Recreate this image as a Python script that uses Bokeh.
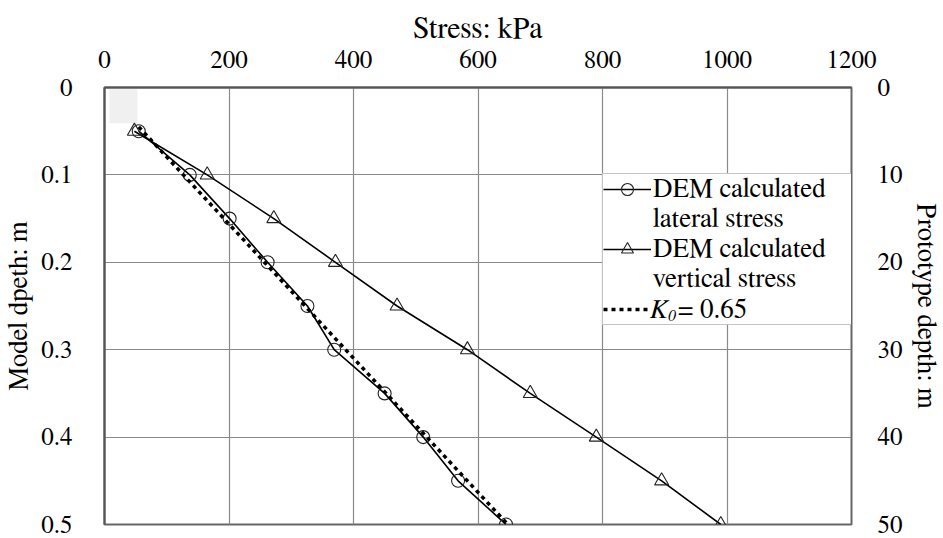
from bokeh.plotting import figure
from bokeh.models import (Range1d, LinearAxis, FixedTicker, CustomJSTickFormatter,
                          Legend, LegendItem)
from bokeh.embed import file_html
from bokeh.resources import INLINE

# ---- data ----
depth = [0.05, 0.10, 0.15, 0.20, 0.25, 0.30, 0.35, 0.40, 0.45, 0.50]
lateral_stress = [55, 137, 201, 262, 326, 369, 450, 512, 568, 645]
vertical_stress = [48, 165, 272, 371, 470, 583, 684, 790, 895, 990]
k0_depth = [0.045, 0.50]
k0_stress = [55, 648]
box_stress = [8, 53]
box_depth = [0.002, 0.041]
x_ticks = [0, 200, 400, 600, 800, 1000, 1200]
y_ticks = [0, 0.1, 0.2, 0.3, 0.4, 0.5]
proto_ticks = [0, 10, 20, 30, 40, 50]

FONT = "Nimbus Roman, FreeSerif, DejaVu Serif"

p = figure(width=943, height=538, x_range=Range1d(0, 1200), y_range=Range1d(0.5, 0),
           x_axis_location="above", output_backend="svg", toolbar_location=None,
           min_border_left=104, min_border_right=92, min_border_top=87, min_border_bottom=14)
p.extra_y_ranges = {"proto": Range1d(50, 0)}

p.outline_line_color = "#666666"
p.outline_line_width = 2
p.xgrid.ticker = FixedTicker(ticks=x_ticks)
p.ygrid.ticker = FixedTicker(ticks=y_ticks)
p.grid.grid_line_color = "#8a8a8a"
p.grid.grid_line_width = 1.2

p.xaxis.ticker = FixedTicker(ticks=x_ticks)
p.yaxis.ticker = FixedTicker(ticks=y_ticks)
p.yaxis.formatter = CustomJSTickFormatter(code="return String(Math.round(tick*10)/10);")
p.xaxis.axis_label = "Stress: kPa"
p.yaxis.axis_label = "Model dpeth: m"

right = LinearAxis(y_range_name="proto", ticker=FixedTicker(ticks=proto_ticks),
                   axis_label="Prototype depth: m")
p.add_layout(right, "right")

for ax in [p.xaxis[0], p.yaxis[0], right]:
    ax.major_tick_line_color = None
    ax.minor_tick_line_color = None
    ax.major_label_text_font = FONT
    ax.major_label_text_font_size = "25px"
    ax.major_label_text_color = "black"
    ax.axis_label_text_font = FONT
    ax.axis_label_text_font_size = "27px"
    ax.axis_label_text_font_style = "normal"
    ax.axis_label_text_color = "black"
    ax.axis_line_color = "#555555"
    ax.axis_line_width = 2
right.axis_line_color = None
p.xaxis.axis_label_text_font_size = "30px"
p.xaxis.major_label_standoff = 14
p.xaxis.axis_label_standoff = 5
p.yaxis.major_label_standoff = 26
p.yaxis.axis_label_standoff = 6
right.major_label_standoff = 20
right.axis_label_standoff = 7

p.quad(left=[box_stress[0]], right=[box_stress[1]], top=[box_depth[0]], bottom=[box_depth[1]],
       fill_color="#f0f0f0", line_color=None)

lat_line = p.line(lateral_stress, depth, line_color="black", line_width=1.6)
lat_pts = p.scatter(lateral_stress, depth, marker="circle", size=13, fill_color=None,
                    line_color="#222222", line_width=1.1)
ver_line = p.line(vertical_stress, depth, line_color="black", line_width=1.6)
ver_pts = p.scatter(vertical_stress, depth, marker="triangle", size=14, fill_color=None,
                    line_color="#222222", line_width=1.1)
k0_line = p.line(k0_stress, k0_depth, line_color="black", line_width=3.5, line_dash="4 4")
dummy = p.line(x=[], y=[], line_alpha=0)

legend = Legend(items=[
    LegendItem(label="DEM calculated", renderers=[lat_line, lat_pts]),
    LegendItem(label="lateral stress", renderers=[dummy]),
    LegendItem(label="DEM calculated", renderers=[ver_line, ver_pts]),
    LegendItem(label="vertical stress", renderers=[dummy]),
    LegendItem(label=" ", renderers=[k0_line]),
], location=(498, 199))
legend.label_text_font = FONT
legend.label_text_font_size = "27px"
legend.label_text_color = "black"
legend.glyph_width = 48
legend.glyph_height = 30
legend.label_height = 30
legend.label_standoff = 2
legend.label_width = 199
legend.spacing = 0
legend.padding = 0
legend.margin = 0
legend.border_line_color = "#8a8a8a"
legend.border_line_width = 1.2
legend.background_fill_color = "white"
legend.background_fill_alpha = 1.0
p.add_layout(legend)

def text_legend(label, loc, style="normal", size="27px"):
    lg = Legend(items=[LegendItem(label=label, renderers=[dummy])], location=loc)
    lg.label_text_font = FONT
    lg.label_text_font_style = style
    lg.label_text_font_size = size
    lg.label_text_color = "black"
    lg.glyph_width = 0
    lg.glyph_height = 30
    lg.label_height = 30
    lg.label_standoff = 0
    lg.padding = 0
    lg.margin = 0
    lg.border_line_color = None
    lg.background_fill_alpha = 0
    return lg

p.add_layout(text_legend("K", (546, 199), "italic"))
p.add_layout(text_legend("0", (564, 193), "italic", "16px"))
p.add_layout(text_legend("= 0.65", (574, 199)))

open("out.html", "w").write(file_html(p, INLINE))
